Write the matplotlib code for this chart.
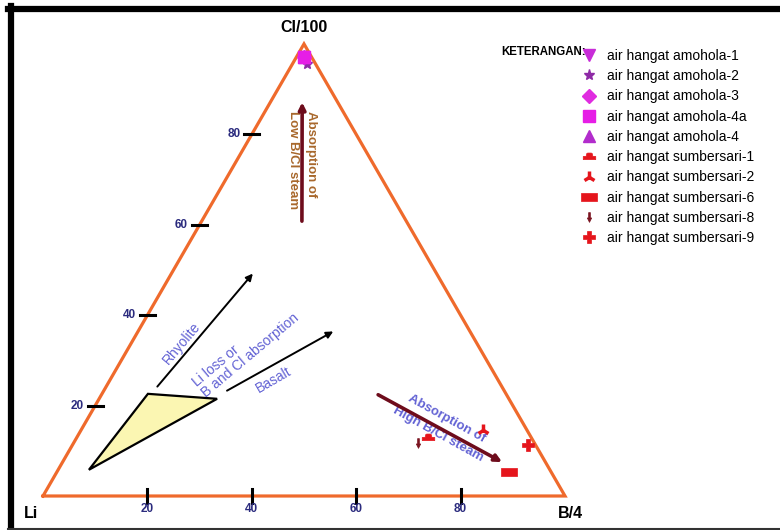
import numpy as np
import matplotlib
matplotlib.use('Agg')
from matplotlib import pyplot as plt
from matplotlib.path import Path

plt.rcParams['font.family'] = ['Liberation Sans', 'DejaVu Sans']

# sample values as (B/4 %, Cl/100 %); Li makes up the rest
amohola_names = ['air hangat amohola-1', 'air hangat amohola-2',
                 'air hangat amohola-3', 'air hangat amohola-4a',
                 'air hangat amohola-4']
amohola_b = [1.5, 2.8, 1.5, 1.5, 1.5]
amohola_cl = [97.0, 95.5, 97.0, 97.0, 97.0]

sumbersari_names = ['air hangat sumbersari-1', 'air hangat sumbersari-2',
                    'air hangat sumbersari-6', 'air hangat sumbersari-8',
                    'air hangat sumbersari-9']
sumbersari_b = [67.2, 77.0, 86.6, 66.0, 87.3]
sumbersari_cl = [13.1, 14.6, 5.3, 11.8, 11.3]

# yellow field (B, Cl)
field_b = [8.8, 22.6, 5.9]
field_cl = [22.6, 21.5, 5.8]

# trend arrows: (B start, Cl start, B end, Cl end)
arrow_rhyolite = (9.8, 24.2, 15.6, 49.2)
arrow_basalt = (23.6, 23.3, 37.4, 36.4)
arrow_low = (19.2, 60.8, 6.1, 87.1)
arrow_high = (53.0, 22.4, 84.2, 7.5)

tick_values = [20, 40, 60, 80]

ORANGE = '#ef6a2c'
NAVY = '#2b2b7e'
BLUE_TXT = '#6262d4'
BROWN_TXT = '#a8682c'
MAROON = '#6e0c1c'


def tern(b, cl):
    b = np.asarray(b, dtype=float) / 100
    cl = np.asarray(cl, dtype=float) / 100
    return b + cl / 2, cl * np.sqrt(3) / 2


def make_path(verts):
    verts = list(verts) + [verts[0]]
    codes = [Path.MOVETO] + [Path.LINETO] * (len(verts) - 2) + [Path.CLOSEPOLY]
    return Path(verts, codes)


mound = make_path([(-1, -0.5), (1, -0.5), (1, 0.0), (0.5, 0.05),
                   (0.45, 0.45), (0.3, 0.55), (-0.3, 0.55), (-0.45, 0.45),
                   (-0.5, 0.05), (-1, 0.0)])
bar = make_path([(-1, -0.45), (1, -0.45), (1, 0.45), (-1, 0.45)])
down_arrow = make_path([(-0.18, 1), (0.18, 1), (0.18, -0.1), (0.45, -0.1),
                        (0, -1), (-0.45, -0.1), (-0.18, -0.1)])

amohola_style = [('v', '#c82cd8', 9), ('*', '#8e2aa6', 8),
                 ('D', '#e02ce0', 7), ('s', '#e61ee6', 9),
                 ('^', '#b22ccc', 9)]
sumbersari_style = [(mound, '#e5151c', 9), ('2', '#e5151c', 9),
                    (bar, '#e5151c', 12), (down_arrow, '#7a1420', 7),
                    ('P', '#e5151c', 9)]

fig = plt.figure(figsize=(7.8, 5.3), dpi=100)
ax = fig.add_axes([0, 0, 1, 1])
ax.set_xlim(-43 / 522, 737 / 522)
ax.set_ylim(-34 / 522, 496 / 522)
ax.axis('off')

# triangle outline
tx, ty = tern([0, 100, 0, 0], [0, 0, 100, 0])
ax.plot(tx, ty, color=ORANGE, lw=2.3, solid_joinstyle='miter', zorder=2)

# ticks along the base (B/4) and left side (Cl/100)
for v in tick_values:
    x, y = tern(v, 0)
    ax.plot([x, x], [y - 0.013, y + 0.013], color='black', lw=2.2, zorder=3)
    ax.text(x, y - 0.025, str(v), ha='center', va='center', color=NAVY,
            fontsize=8.5, fontweight='bold',
            family=['Liberation Sans Narrow', 'Liberation Sans'])
    x, y = tern(0, v)
    ax.plot([x - 0.014, x + 0.014], [y, y], color='black', lw=2.2, zorder=3)
    ax.text(x - 0.022, y, str(v), ha='right', va='center', color=NAVY,
            fontsize=8.5, fontweight='bold')

ax.text(0.5, 0.897, 'Cl/100', ha='center', va='center', fontsize=11.5,
        fontweight='bold')
ax.text(-0.023, -0.034, 'Li', ha='center', va='center', fontsize=11.5,
        fontweight='bold')
ax.text(1.01, -0.034, 'B/4', ha='center', va='center', fontsize=11.5,
        fontweight='bold')

# yellow field
fx, fy = tern(field_b, field_cl)
ax.fill(fx, fy, facecolor='#fbf6b2', edgecolor='black', lw=1.6, zorder=3)


def draw_arrow(a, color, lw, head):
    x0, y0 = tern(a[0], a[1])
    x1, y1 = tern(a[2], a[3])
    ax.annotate('', xy=(x1, y1), xytext=(x0, y0),
                arrowprops=dict(arrowstyle='-|>', color=color, lw=lw,
                                mutation_scale=head, shrinkA=0, shrinkB=0),
                zorder=4)


draw_arrow(arrow_rhyolite, 'black', 1.4, 10)
draw_arrow(arrow_basalt, 'black', 1.4, 10)
draw_arrow(arrow_low, MAROON, 2.6, 10)
draw_arrow(arrow_high, MAROON, 2.6, 10)

ax.text(0.266, 0.293, 'Rhyolite', rotation=50, ha='center', va='center',
        rotation_mode='anchor', color=BLUE_TXT, fontsize=10)
ax.text(0.389, 0.280, 'Li loss or\nB and Cl absorption', rotation=40,
        ha='center', va='center', rotation_mode='anchor',
        multialignment='left', color=BLUE_TXT, fontsize=10, linespacing=1.05)
ax.text(0.441, 0.222, 'Basalt', rotation=30, ha='center', va='center',
        rotation_mode='anchor', color=BLUE_TXT, fontsize=10)
ax.text(0.496, 0.644, 'Absorption of\nLow B/Cl steam', rotation=-90,
        ha='center', va='center', rotation_mode='anchor',
        multialignment='left', color=BROWN_TXT, fontsize=9.5,
        fontweight='bold', linespacing=1.75)
ax.text(0.766, 0.134, 'Absorption of\nHigh B/Cl steam', rotation=-29,
        ha='center', va='center', rotation_mode='anchor',
        color=BLUE_TXT, fontsize=9.5, fontweight='bold', linespacing=1.65)

# samples
handles = []
for name, b, cl, (m, c, s) in zip(amohola_names, amohola_b, amohola_cl,
                                  amohola_style):
    x, y = tern(b, cl)
    z = 6 if m == 's' else 5
    h, = ax.plot(x, y, ls='none', marker=m, color=c, markersize=s,
                 markeredgewidth=1, label=name, zorder=z)
    handles.append(h)
for name, b, cl, (m, c, s) in zip(sumbersari_names, sumbersari_b,
                                  sumbersari_cl, sumbersari_style):
    x, y = tern(b, cl)
    mew = 2.5 if m == '2' else 0.5
    h, = ax.plot(x, y, ls='none', marker=m, color=c, markersize=s,
                 markeredgewidth=mew, label=name, zorder=5)
    handles.append(h)

fig.legend(handles=handles, loc='upper left',
           bbox_to_anchor=(574 / 780, 1 - 42 / 530), frameon=False,
           fontsize=10, numpoints=1, handlelength=1.2, handletextpad=0.7,
           labelspacing=0.45, borderpad=0)
fig.text(501 / 780, 1 - 52 / 530, 'KETERANGAN:', ha='left', va='center',
         fontsize=8.3, fontweight='bold')

# picture frame
fig.add_artist(plt.Line2D([8 / 780, 1], [1 - 9 / 530] * 2, color='black',
                          lw=4.5, transform=fig.transFigure))
fig.add_artist(plt.Line2D([11 / 780] * 2, [0, 1 - 6 / 530], color='black',
                          lw=4.5, transform=fig.transFigure))
fig.add_artist(plt.Line2D([8 / 780, 1], [1.5 / 530] * 2, color='#333333',
                          lw=1.5, transform=fig.transFigure))

fig.savefig('out.png', dpi=100)
